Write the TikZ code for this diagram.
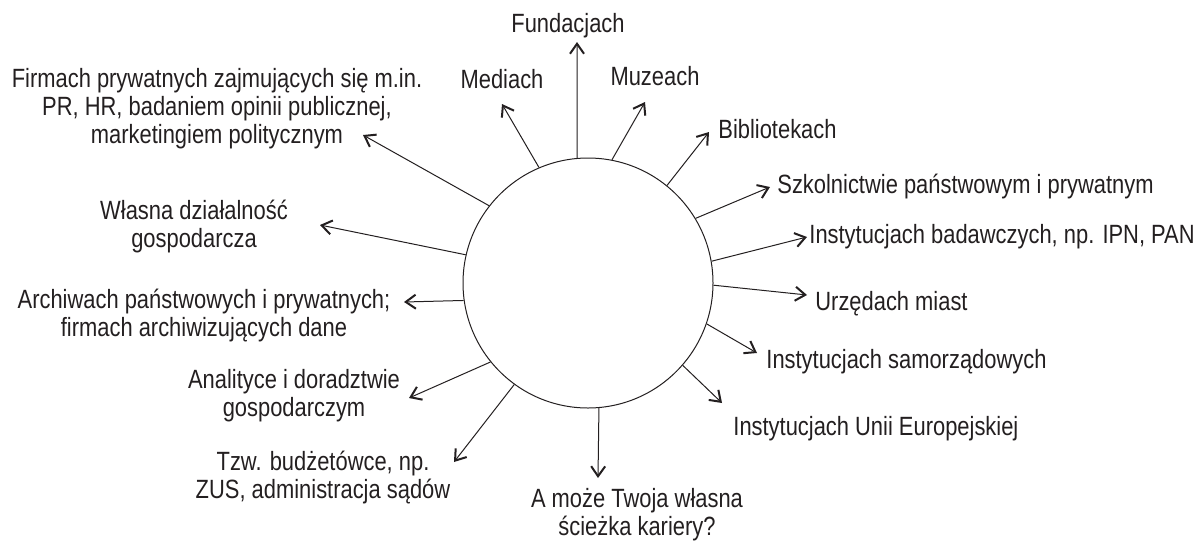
\documentclass[tikz,border=0pt]{standalone}
\usepackage{fontspec}
\setmainfont{Liberation Sans}[FakeStretch=0.83]
\usepackage{xcolor}
\usetikzlibrary{arrows.meta}
\definecolor{ink}{HTML}{231F20}

\begin{document}
\begin{tikzpicture}[
  x=0.5pt, y=-0.5pt,
  hub/.style={draw=ink, circle, line width=0.5pt, minimum size=125pt, inner sep=0pt},
  lab/.style={text=ink, font=\fontsize{13.2}{14}\selectfont, align=center, inner sep=0pt},
  edge/.style={draw=ink, line width=0.5pt, -{Straight Barb[length=5pt,width=7pt,line width=1pt]}}
]
\useasboundingbox (0,0) rectangle (1194,542);

\node[hub] (hub) at (588,283) {};

% labels
\node[lab, anchor=base] (fund) at (568,32) {Fundacjach};
\node[lab, anchor=base] (media) at (502,88) {Mediach};
\node[lab, anchor=base] (muz) at (655,85) {Muzeach};
\node[lab, anchor=base west] (bibl) at (718,138) {Bibliotekach};
\node[lab, anchor=base west] (szk) at (777,193) {Szkolnictwie państwowym i prywatnym};
\node[lab, anchor=base west] (bad) at (809,243) {Instytucjach badawczych, np. IPN, PAN};
\node[lab, anchor=base west] (urz) at (815,310) {Urzędach miast};
\node[lab, anchor=base west] (sam) at (766,368) {Instytucjach samorządowych};
\node[lab, anchor=base west] (ue) at (733,435) {Instytucjach Unii Europejskiej};
\node[lab, anchor=base] (own) at (637,535) {A może Twoja własna\\ścieżka kariery?};
\node[lab, anchor=base] (budz) at (323,498) {Tzw. budżetówce, np.\\ZUS, administracja sądów};
\node[lab, anchor=base] (anal) at (294,416) {Analityce i doradztwie\\gospodarczym};
\node[lab, anchor=base] (arch) at (204,336) {Archiwach państwowych i prywatnych;\\firmach archiwizujących dane};
\node[lab, anchor=base] (wlas) at (194,247) {Własna działalność\\gospodarcza};
\node[lab, anchor=base] (firm) at (217,143) {Firmach prywatnych zajmujących się m.in.\\PR, HR, badaniem opinii publicznej,\\marketingiem politycznym};

% arrow tips
\coordinate (tFund) at (577,42);
\coordinate (tMedia) at (502,104);
\coordinate (tMuz) at (645,102);
\coordinate (tBibl) at (709,132);
\coordinate (tSzk) at (770,187);
\coordinate (tBad) at (807,237);
\coordinate (tUrz) at (807,295);
\coordinate (tSam) at (757,353);
\coordinate (tUe) at (722,403);
\coordinate (tOwn) at (598,478);
\coordinate (tBudz) at (454,462);
\coordinate (tAnal) at (409,398);
\coordinate (tArch) at (404,302);
\coordinate (tWlas) at (320,225);
\coordinate (tFirm) at (363,135);

\draw[edge] (hub.95) -- (tFund);
\draw[edge] (hub.113.5) -- (tMedia);
\draw[edge] (hub.79.4) -- (tMuz);
\draw[edge] (hub.51.8) -- (tBibl);
\draw[edge] (hub.31.3) -- (tSzk);
\draw[edge] (hub.10.1) -- (tBad);
\draw[edge] (hub.-1) -- (tUrz);
\draw[edge] (hub.-19.2) -- (tSam);
\draw[edge] (hub.-41.1) -- (tUe);
\draw[edge] (hub.-85.4) -- (tOwn);
\draw[edge] (hub.234.9) -- (tBudz);
\draw[edge] (hub.219.8) -- (tAnal);
\draw[edge] (hub.188.6) -- (tArch);
\draw[edge] (hub.167.6) -- (tWlas);
\draw[edge] (hub.142.8) -- (tFirm);
\end{tikzpicture}
\end{document}
